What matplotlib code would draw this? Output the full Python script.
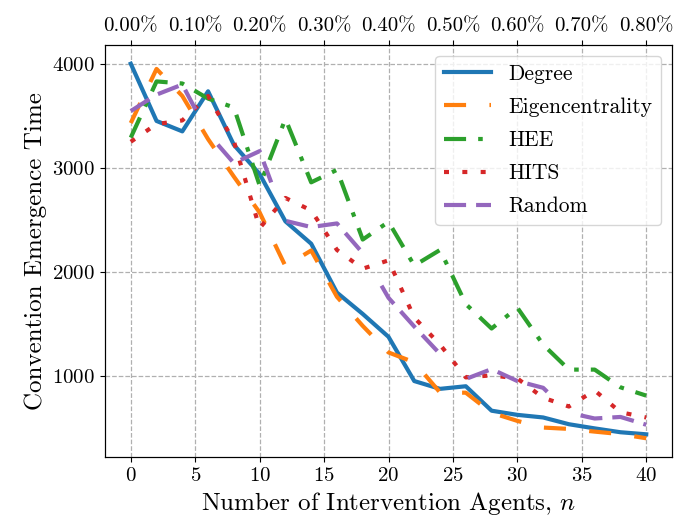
import matplotlib
matplotlib.use('Agg')
import matplotlib.pyplot as plt

plt.rcParams.update({
    'font.family': 'serif',
    'font.serif': ['cmr10'],
    'mathtext.fontset': 'cm',
    'axes.formatter.use_mathtext': True,
})

n_agents = list(range(0, 41, 2))
degree = [4000, 3450, 3350, 3735, 3220, 2940, 2485, 2270, 1800, 1595, 1375,
          950, 875, 900, 665, 625, 600, 535, 495, 458, 438]
eigen = [3430, 3950, 3690, 3275, 2915, 2570, 2055, 2205, 1760, 1480, 1225,
         1130, 840, 838, 645, 567, 503, 490, 464, 440, 400]
hee = [3290, 3830, 3810, 3665, 3580, 2830, 3470, 2860, 2980, 2310, 2480,
       2060, 2210, 1690, 1455, 1655, 1300, 1060, 1060, 890, 810]
hits = [3250, 3420, 3455, 3690, 3255, 2420, 2710, 2590, 2210, 2030, 2110,
        1560, 1300, 985, 1005, 975, 790, 705, 860, 650, 600]
random_sel = [3545, 3703, 3800, 3330, 3045, 3160, 2490, 2430, 2465, 2180, 1750,
              1474, 1210, 970, 1065, 950, 885, 645, 590, 605, 530]

series_names = ['Degree', 'Eigencentrality', 'HEE', 'HITS', 'Random']
x_ticks = [0, 5, 10, 15, 20, 25, 30, 35, 40]
top_labels = ['0.00%', '0.10%', '0.20%', '0.30%', '0.40%', '0.50%', '0.60%', '0.70%', '0.80%']
y_ticks = [1000, 2000, 3000, 4000]

fig = plt.figure(figsize=(6.78, 5.22), dpi=100)
ax = fig.add_axes([105/678, 1-457/522, (672-105)/678, (457-45)/522])

styles = [
    dict(color='#1f77b4', linestyle='-'),
    dict(color='#ff7f0e', linestyle=(0, (5.3, 5.6))),
    dict(color='#2ca02c', linestyle=(0, (5.3, 2.9, 1.1, 2.9))),
    dict(color='#d62728', linestyle=(0, (1.2, 3.2))),
    dict(color='#9467bd', linestyle=(0, (5.3, 2.4, 5.3, 2.4, 5.3, 10.1))),
]
for data, name, st in zip([degree, eigen, hee, hits, random_sel], series_names, styles):
    ax.plot(n_agents, data, lw=3, label=name, **st)

ax.set_xticks(x_ticks)
ax.set_yticks(y_ticks)
ax.tick_params(labelsize=15)
ax.grid(True, linestyle='--', color='#b0b0b0', linewidth=0.9)
ax.set_xlabel('Number of Intervention Agents, $n$', fontsize=18)
ax.set_ylabel('Convention Emergence Time', fontsize=18)
ax.legend(loc='upper right', fontsize=15.5, handlelength=2.2, labelspacing=0.63)

ax2 = ax.twiny()
ax2.set_xlim(ax.get_xlim())
ax2.set_xticks(x_ticks)
ax2.set_xticklabels(top_labels)
ax2.tick_params(labelsize=15)

fig.savefig('out.png', dpi=100)
